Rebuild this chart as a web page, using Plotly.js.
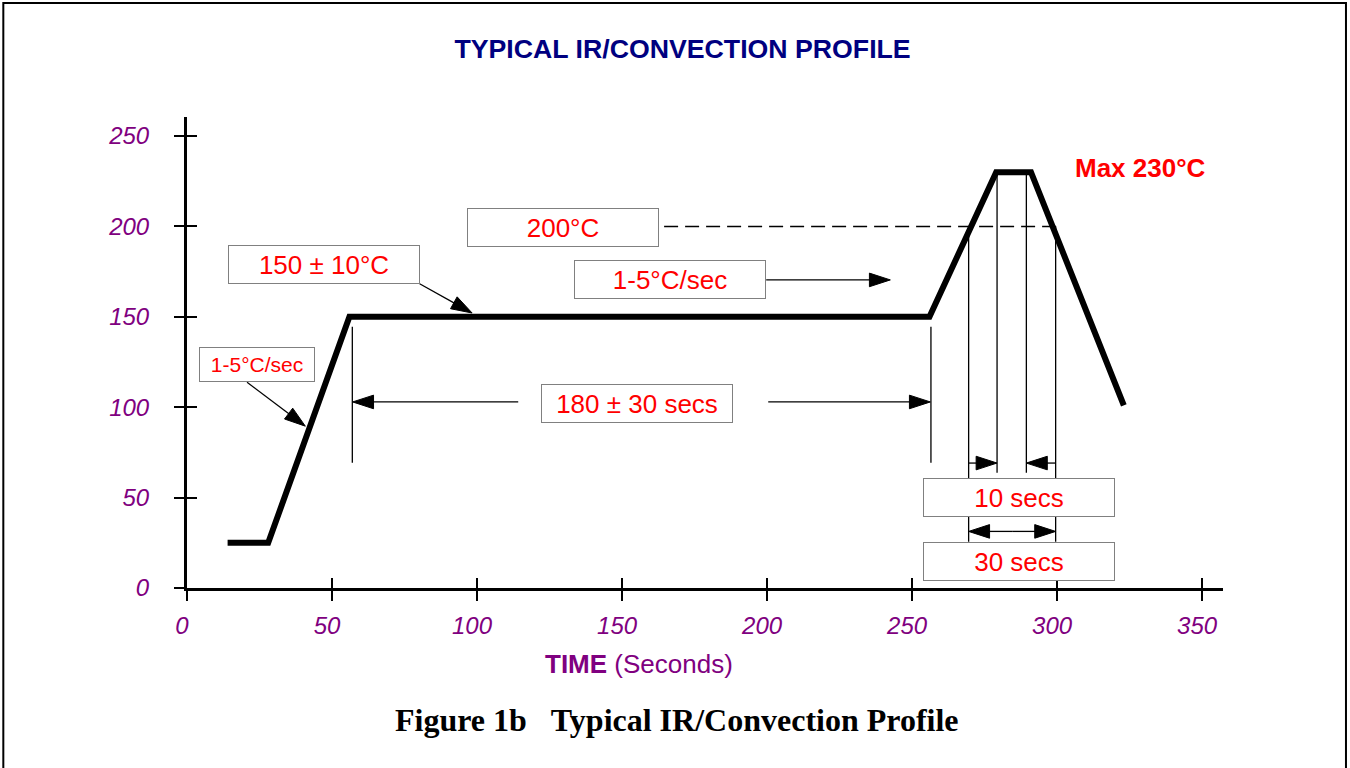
<!DOCTYPE html>
<html><head><meta charset="utf-8">
<script src="https://cdn.plot.ly/plotly-3.0.1.min.js"></script>
<style>html,body{margin:0;padding:0;background:#fff;} #chart{width:1350px;height:768px;}</style>
</head><body><div id="chart"></div>
<script>
// ---- data ----
const profileTime = [14, 28, 56, 256, 279, 291, 323];
const profileTemp = [25, 25, 150, 150, 230, 230, 101];

const refLineTime = [164.5, 300];
const refLineTemp = [200, 200];

const guideTime   = [57, 256.5, 269.5, 279.3, 289.4, 299.5];
const guideTop    = [144.5, 144.5, 200, 230, 230, 200];
const guideBottom = [69.3, 69.3, 25.6, 63.8, 63.8, 25.6];

const arrowTailTime = [80.2, 20.7, 199.7, 114.2, 200.4, 269.5, 299.5, 284.5, 284.5];
const arrowTailTemp = [168.3, 113.8, 170.4, 102.9, 102.9, 69.1, 69.1, 31.3, 31.3];
const arrowHeadTime = [98.3, 40.8, 242.5, 57.1, 256.3, 279.3, 289.4, 269.5, 299.5];
const arrowHeadTemp = [152.1, 89.5, 170.4, 102.9, 102.9, 69.1, 69.1, 31.3, 31.3];

const boxLabels = ["150 ± 10°C", "200°C", "1-5°C/sec", "180 ± 30 secs", "10 secs", "30 secs", "1-5°C/sec"];
const boxTime   = [47.1, 129.8, 166.5, 155.3, 287, 287, 24.2];
const boxTemp   = [179.0, 199.4, 170.5, 102.2, 50.1, 14.7, 123.4];
const boxSmall  = [false, false, false, false, false, false, true];

const xTicks = [0, 50, 100, 150, 200, 250, 300, 350];
const yTicks = [0, 50, 100, 150, 200, 250];

const peakLabel = "Max 230°C";
const peakTime = 328.7, peakTemp = 232.3;

// ---- traces ----
const traces = [];
traces.push({x: profileTime, y: profileTemp, mode: 'lines', line: {color: '#000', width: 6}, hoverinfo: 'skip', showlegend: false});
traces.push({x: refLineTime, y: refLineTemp, mode: 'lines', line: {color: '#000', width: 1.5, dash: '14px,7px'}, hoverinfo: 'skip', showlegend: false});
const gx = [], gy = [];
guideTime.forEach((t, i) => { gx.push(t, t, null); gy.push(guideTop[i], guideBottom[i], null); });
traces.push({x: gx, y: gy, mode: 'lines', line: {color: '#000', width: 1.3}, hoverinfo: 'skip', showlegend: false});
arrowTailTime.forEach((t, i) => {
  traces.push({
    x: [t, arrowHeadTime[i]], y: [arrowTailTemp[i], arrowHeadTemp[i]],
    mode: 'lines+markers', line: {color: '#000', width: 1.3},
    marker: {symbol: 'arrow', size: [0, 22], color: '#000000', opacity: 1, angleref: 'previous', line: {width: 1, color: '#000000'}},
    cliponaxis: false, hoverinfo: 'skip', showlegend: false
  });
});
traces.push({x: [], y: [], xaxis: 'x2', yaxis: 'y2', mode: 'markers', hoverinfo: 'skip', showlegend: false});

// ---- annotations ----
const annotations = boxLabels.map((txt, i) => ({
  x: boxTime[i], y: boxTemp[i], xref: 'x', yref: 'y', text: txt, showarrow: false,
  font: {family: 'Liberation Sans, Arial, sans-serif', size: boxSmall[i] ? 21 : 26, color: '#ff0000'},
  bgcolor: '#ffffff', bordercolor: '#808080', borderwidth: 1, borderpad: 0,
  width: boxSmall[i] ? 114 : 190, height: boxSmall[i] ? 33 : 37,
  xanchor: 'center', yanchor: 'middle'
}));
annotations.push({x: peakTime, y: peakTemp, xref: 'x', yref: 'y', text: '<b>' + peakLabel + '</b>', showarrow: false,
  font: {family: 'Liberation Sans, Arial, sans-serif', size: 26, color: '#ff0000'}, xanchor: 'center', yanchor: 'middle'});
annotations.push({x: 0.4365, y: -0.1606, xref: 'paper', yref: 'paper', text: '<b>TIME</b> (Seconds)', showarrow: false,
  font: {family: 'Liberation Sans, Arial, sans-serif', size: 26, color: '#800080'}, xanchor: 'center', yanchor: 'middle'});
annotations.push({x: 0.4726, y: -0.2794, xref: 'paper', yref: 'paper', text: '<b>Figure 1b\u00A0\u00A0\u00A0Typical IR/Convection Profile</b>', showarrow: false,
  font: {family: 'Liberation Serif, Times New Roman, serif', size: 32, color: '#000000'}, xanchor: 'center', yanchor: 'middle'});

const tickFont = {family: 'Liberation Sans, Arial, sans-serif', size: 24, color: '#800080', style: 'italic'};

const layout = {
  width: 1350, height: 768,
  margin: {l: 187, r: 127, t: 117, b: 180, pad: 0},
  paper_bgcolor: '#ffffff', plot_bgcolor: '#ffffff',
  title: {text: '<b>TYPICAL IR/CONVECTION PROFILE</b>', x: 0.5056, xref: 'container', xanchor: 'center',
          y: 0.937, yref: 'container', yanchor: 'middle',
          font: {family: 'Liberation Sans, Arial, sans-serif', size: 26.7, color: '#000080'}},
  xaxis: {range: [0, 357.2], tickmode: 'array', tickvals: xTicks, ticktext: xTicks.map(String),
          ticks: 'outside', ticklen: 10, tickwidth: 2, tickcolor: '#000',
          showline: true, linewidth: 3, linecolor: '#000', showgrid: false, zeroline: false,
          tickfont: tickFont, ticklabelstandoff: 4, ticklabelshift: -5, fixedrange: true},
  yaxis: {range: [0, 260.5], tickmode: 'array', tickvals: yTicks, ticktext: yTicks.map(String),
          ticks: 'outside', ticklen: 10, tickwidth: 2, tickcolor: '#000',
          showline: true, linewidth: 3, linecolor: '#000', showgrid: false, zeroline: false,
          tickfont: tickFont, ticklabelstandoff: 20, fixedrange: true},
  xaxis2: {range: [0, 357.2], overlaying: 'x', anchor: 'y2', side: 'bottom', tickmode: 'array', tickvals: xTicks,
           ticks: 'inside', ticklen: 10, tickwidth: 2, tickcolor: '#000', showticklabels: false,
           showline: false, showgrid: false, zeroline: false, fixedrange: true},
  yaxis2: {range: [0, 260.5], overlaying: 'y', anchor: 'x2', side: 'left', tickmode: 'array', tickvals: yTicks,
           ticks: 'inside', ticklen: 10, tickwidth: 2, tickcolor: '#000', showticklabels: false,
           showline: false, showgrid: false, zeroline: false, fixedrange: true},
  annotations: annotations,
  shapes: [{type: 'rect', xref: 'paper', yref: 'paper', x0: -0.1773, x1: 1.1187, y0: -0.3855, y1: 1.2419,
            line: {color: '#000', width: 2}, fillcolor: 'rgba(0,0,0,0)', layer: 'below'}],
  showlegend: false
};

Plotly.newPlot('chart', traces, layout, {displayModeBar: false, staticPlot: true});
</script></body></html>
